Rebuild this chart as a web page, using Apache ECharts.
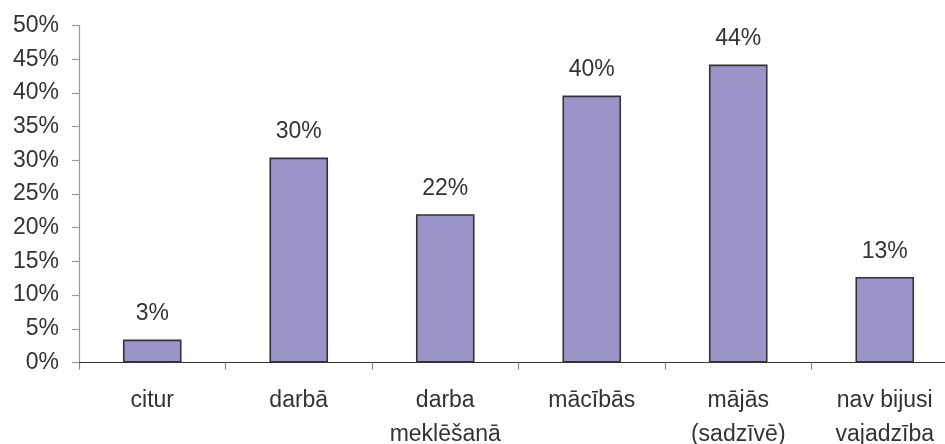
<!DOCTYPE html>
<html><head><meta charset="utf-8">
<script src="https://cdn.jsdelivr.net/npm/echarts@6/dist/echarts.min.js"></script>
<style>html,body{margin:0;padding:0;background:#fff}#c{width:945px;height:444px}</style>
</head><body><div id="c"></div>
<script>
const categories = ['citur', 'darbā', 'darba\nmeklēšanā', 'mācībās', 'mājās\n(sadzīvē)', 'nav bijusi\nvajadzība'];
const values = [3.4, 30.4, 22.0, 39.6, 44.2, 12.7];
const yTicks = { min: 0, max: 50, interval: 5 };

const chart = echarts.init(document.getElementById('c'), null, { renderer: 'canvas' });
chart.setOption({
  animation: false,
  grid: { left: 79, right: -13, top: 25.5, bottom: 81.5, containLabel: false, outerBoundsMode: 'none' },
  xAxis: {
    type: 'category',
    data: categories,
    axisLine: { lineStyle: { color: '#333', width: 1.2 } },
    axisTick: { show: true, length: 7, alignWithLabel: false, lineStyle: { color: '#888', width: 1.2 } },
    axisLabel: { color: '#333', fontFamily: 'Liberation Sans', fontSize: 23, lineHeight: 34, margin: 21, interval: 0 }
  },
  yAxis: {
    type: 'value',
    min: yTicks.min, max: yTicks.max, interval: yTicks.interval,
    axisLine: { show: true, lineStyle: { color: '#999', width: 1.2 } },
    axisTick: { show: true, inside: false, length: 7, lineStyle: { color: '#999', width: 1.2 } },
    splitLine: { show: false },
    axisLabel: { formatter: '{value}%', color: '#333', fontFamily: 'Liberation Sans', fontSize: 23, margin: 20 }
  },
  series: [{
    type: 'bar',
    data: values,
    barWidth: '40%',
    itemStyle: { color: '#9b94c8', borderColor: '#333', borderWidth: 1.6 },
    label: {
      show: true, position: 'top', distance: 14,
      formatter: p => Math.round(p.value) + '%',
      color: '#333', fontFamily: 'Liberation Sans', fontSize: 23
    }
  }]
});
</script></body></html>
